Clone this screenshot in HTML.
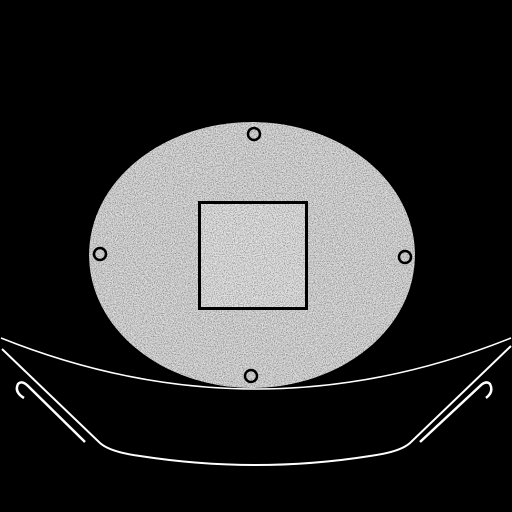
<!DOCTYPE html>
<html><head><meta charset="utf-8"><style>
html,body{margin:0;padding:0;background:#000;width:512px;height:512px;overflow:hidden}
svg{display:block}
</style></head><body>
<svg width="512" height="512" viewBox="0 0 512 512" xmlns="http://www.w3.org/2000/svg">
<defs>
<filter id="noise" x="0" y="0" width="100%" height="100%">
<feTurbulence type="fractalNoise" baseFrequency="0.9" numOctaves="2" seed="3" result="t"/>
<feColorMatrix in="t" type="matrix" values="0 0 0 0 0  0 0 0 0 0  0 0 0 0 0  0 0 0 -2.2 1.3" result="a"/>
<feComposite in="a" in2="SourceGraphic" operator="in"/>
</filter>
<filter id="wnoise" x="0" y="0" width="100%" height="100%">
<feTurbulence type="fractalNoise" baseFrequency="0.8" numOctaves="2" seed="7" result="t"/>
<feColorMatrix in="t" type="matrix" values="0 0 0 0 1  0 0 0 0 1  0 0 0 0 1  0 0 0 2.4 -1.1" result="a"/>
<feComposite in="a" in2="SourceGraphic" operator="in"/>
</filter>
<clipPath id="ec"><ellipse cx="252" cy="255" rx="163" ry="133"/></clipPath>
</defs>
<rect width="512" height="512" fill="#000"/>
<g clip-path="url(#ec)">
<ellipse cx="252" cy="255" rx="163" ry="133" fill="#d2d2d2"/>
<rect x="199" y="202" width="108" height="107" fill="#dcdcdc"/>
<rect x="80" y="110" width="350" height="290" fill="#000" filter="url(#noise)" opacity="0.45"/>
<rect x="80" y="110" width="350" height="290" fill="#000" filter="url(#wnoise)" opacity="0.7"/>
</g>
<rect x="199.5" y="202.5" width="107" height="106" fill="none" stroke="#000" stroke-width="3"/>
<circle cx="254" cy="134" r="6" fill="none" stroke="#000" stroke-width="2.5"/>
<circle cx="100" cy="254" r="6" fill="none" stroke="#000" stroke-width="2.5"/>
<circle cx="405" cy="257" r="6" fill="none" stroke="#000" stroke-width="2.5"/>
<circle cx="251" cy="376" r="6" fill="none" stroke="#000" stroke-width="2.5"/>
<path d="M1,338 Q256,440 511,338" fill="none" stroke="#fff" stroke-width="1.5"/>
<path d="M2,349 L100,443 Q110,452 140,456 Q256,474 370,456 Q400,452 410,443 L511,346" fill="none" stroke="#fff" stroke-width="2"/>
<path d="M24,398 Q14,392 18,384 Q22,380 28,386 L85,442" fill="none" stroke="#fff" stroke-width="2.5"/>
<path d="M486,398 Q494,392 490,384 Q486,380 480,386 L420,442" fill="none" stroke="#fff" stroke-width="2.5"/>
</svg>
</body></html>
